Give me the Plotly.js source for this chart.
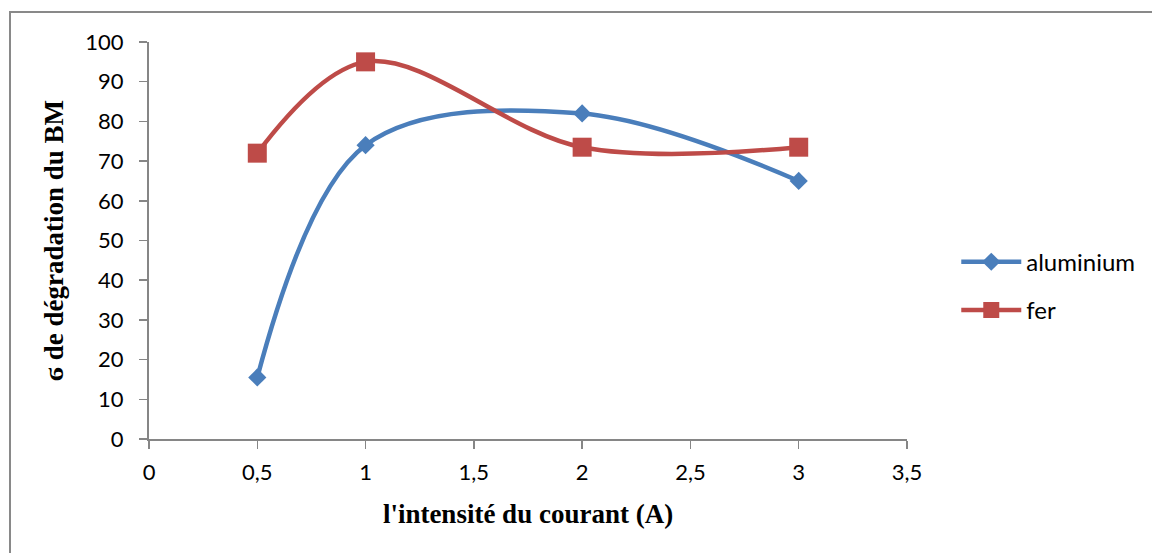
<!DOCTYPE html>
<html>
<head>
<meta charset="utf-8">
<script src="https://cdn.plot.ly/plotly-3.0.1.min.js"></script>
<style>
  html, body { margin: 0; padding: 0; background: #fff; }
  #frame { position: absolute; left: 9px; top: 11px; width: 1160px; height: 560px;
           border-left: 2px solid #898989; border-top: 2px solid #898989; }
  #chart { position: absolute; left: 0; top: 0; width: 1152px; height: 553px; }
</style>
</head>
<body>
<div id="frame"></div>
<div id="chart"></div>
<script>
// Intensité du courant (A)
const intensite = [0.5, 1, 2, 3];
// Taux de dégradation du BM (%)
const aluminium = [15.5, 74, 82, 65];
const fer = [72, 95, 73.5, 73.5];
const xTicks = [0, 0.5, 1, 1.5, 2, 2.5, 3, 3.5];
const yTicks = [0, 10, 20, 30, 40, 50, 60, 70, 80, 90, 100];

const traces = [
  {
    x: intensite, y: aluminium, name: 'aluminium', legendgroup: 'al', type: 'scatter', mode: 'lines+markers',
    line: { color: '#4A7EBB', width: 4.5, shape: 'spline', smoothing: 1 },
    marker: { symbol: 'diamond', size: 14, color: '#4A7EBB' }
  },
  {
    x: intensite, y: fer, name: 'fer', legendgroup: 'fe', type: 'scatter', mode: 'lines+markers',
    line: { color: '#BE4B48', width: 4.5, shape: 'spline', smoothing: 1 },
    marker: { symbol: 'square', size: 19, color: '#BE4B48' }
  }
];

const axisFont = { family: 'Lato, sans-serif', size: 22, color: '#000' };
const titleFont = { family: '"Liberation Serif", "DejaVu Serif", serif', size: 27, weight: 'bold', color: '#000' };

const layout = {
  width: 1152, height: 553,
  paper_bgcolor: 'rgba(0,0,0,0)', plot_bgcolor: 'rgba(0,0,0,0)',
  separators: ', ',
  showlegend: true,
  margin: { l: 149, r: 245, t: 42, b: 114 },
  font: { family: 'Lato, sans-serif', size: 22, color: '#000' },
  xaxis: {
    range: [0, 3.5], tickvals: xTicks, ticktext: xTicks.map(v => String(v).replace('.', ',')),
    showgrid: false, zeroline: false, showline: true, linecolor: '#868686', linewidth: 2,
    ticks: 'outside', ticklen: 8, tickcolor: '#868686', tickwidth: 1.5,
    ticklabelstandoff: 5,
    tickfont: axisFont,
    title: { text: "l'intensité du courant (A)", standoff: 20, font: titleFont }
  },
  yaxis: {
    range: [0, 100], tickvals: yTicks,
    showgrid: false, zeroline: false, showline: true, linecolor: '#868686', linewidth: 2,
    ticks: 'outside', ticklen: 8, tickcolor: '#868686', tickwidth: 1.5,
    ticklabelstandoff: 11,
    tickfont: axisFont,
    title: { text: 'ϭ de dégradation du BM', standoff: 14, font: titleFont }
  },
  legend: {
    x: 1.065, xanchor: 'left', y: 0.385, yanchor: 'middle',
    itemwidth: 60, traceorder: 'grouped', tracegroupgap: 14,
    font: { family: 'Lato, sans-serif', size: 24, color: '#000' },
    bgcolor: 'rgba(0,0,0,0)'
  }
};

Plotly.newPlot('chart', traces, layout, { displayModeBar: false, staticPlot: true });
</script>
</body>
</html>
